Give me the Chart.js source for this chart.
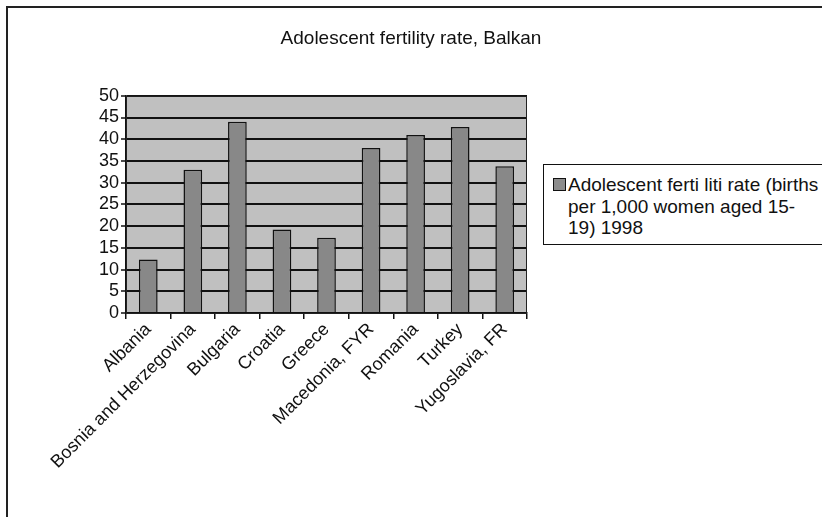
<!DOCTYPE html>
<html>
<head>
<meta charset="utf-8">
<script src="https://cdn.jsdelivr.net/npm/chart.js@4"></script>
<style>
  html, body { margin: 0; padding: 0; background: #fff; }
  #wrap { position: relative; width: 822px; height: 517px; }
  #legend {
    position: absolute; left: 543px; top: 164px; width: 290px; height: 81px;
    border: 1.5px solid #111; box-sizing: border-box; background: #fff;
    font: 19px Arial, "Liberation Sans", sans-serif; color: #111; line-height: 21.5px;
  }
  #legend .sw {
    position: absolute; left: 9px; top: 13px; width: 13px; height: 13px;
    background: #8c8c8c; border: 1px solid #111; box-sizing: border-box;
  }
  #legend .txt { position: absolute; left: 24px; top: 9px; white-space: nowrap; }
</style>
</head>
<body>
<div id="wrap">
  <canvas id="chart" width="822" height="517"></canvas>
  <div id="legend"></div>
</div>
<script>
// data
const countries = ['Albania', 'Bosnia and Herzegovina', 'Bulgaria', 'Croatia', 'Greece',
                   'Macedonia, FYR', 'Romania', 'Turkey', 'Yugoslavia, FR'];
const rates = [12.3, 33, 44, 19.2, 17.3, 38, 41, 42.8, 33.8];
const seriesLines = ['Adolescent ferti liti rate (births', 'per 1,000 women aged 15-', '19) 1998'];
const seriesName = seriesLines.join(' ');
const chartTitle = 'Adolescent fertility rate, Balkan';

const PLOT_BG = '#c0c0c0';
const BAR = '#888888';

// plot background + outer frame (left and top edges only, as in the scan)
const frame = {
  id: 'frame',
  beforeDraw(chart) {
    const { ctx, chartArea: a } = chart;
    ctx.save();
    ctx.fillStyle = PLOT_BG;
    ctx.fillRect(a.left, a.top, a.right - a.left, a.bottom - a.top);
    ctx.restore();
  },
  afterDraw(chart) {
    const { ctx, chartArea: a } = chart;
    ctx.save();
    ctx.strokeStyle = '#222';
    ctx.lineWidth = 1;
    ctx.strokeRect(a.left + 0.5, a.top + 0.5, a.right - a.left - 1, a.bottom - a.top);
    ctx.lineWidth = 2;
    ctx.beginPath();
    ctx.moveTo(7, 517);
    ctx.lineTo(7, 7);
    ctx.lineTo(822, 7);
    ctx.stroke();
    ctx.restore();
  }
};

new Chart(document.getElementById('chart'), {
  type: 'bar',
  data: {
    labels: countries,
    datasets: [{
      label: seriesName,
      data: rates,
      backgroundColor: BAR,
      borderColor: '#111',
      borderWidth: 1.5,
      categoryPercentage: 1,
      barPercentage: 0.42
    }]
  },
  options: {
    responsive: false,
    animation: false,
    layout: { padding: 0 },
    plugins: {
      legend: { display: false },
      tooltip: { enabled: false },
      title: {
        display: true,
        text: chartTitle,
        color: '#111',
        font: { family: 'Arial', size: 19, weight: 'normal' },
        padding: { top: 27, bottom: 46 }
      }
    },
    scales: {
      x: {
        grid: { offset: true, drawOnChartArea: false, color: '#111', tickLength: 6, lineWidth: 1.5 },
        border: { color: '#111', width: 1.5 },
        ticks: {
          color: '#111', maxRotation: 45, minRotation: 45, autoSkip: false, padding: 0,
          font: { family: 'Arial', size: 18 }
        },
        afterFit(s) { s.height = 204; }
      },
      y: {
        min: 0, max: 50,
        grid: { color: '#111', lineWidth: 2, tickLength: 5, tickColor: '#111', tickWidth: 1.5 },
        border: { color: '#111', width: 1.5 },
        ticks: {
          stepSize: 5, autoSkip: false, color: '#111', padding: 2,
          font: { family: 'Arial', size: 18 }
        },
        afterFit(s) { s.width = 126; }
      },
      // empty right-hand scale that reserves the room used by the legend
      room: {
        position: 'right',
        grid: { drawOnChartArea: false, drawTicks: false },
        border: { display: false },
        ticks: { display: false },
        afterFit(s) { s.width = 295; }
      }
    }
  },
  plugins: [frame]
});

// legend box with the series name, wrapped as in the original
document.getElementById('legend').innerHTML =
  '<div class="sw"></div><div class="txt">' + seriesLines.join('<br>') + '</div>';
</script>
</body>
</html>
